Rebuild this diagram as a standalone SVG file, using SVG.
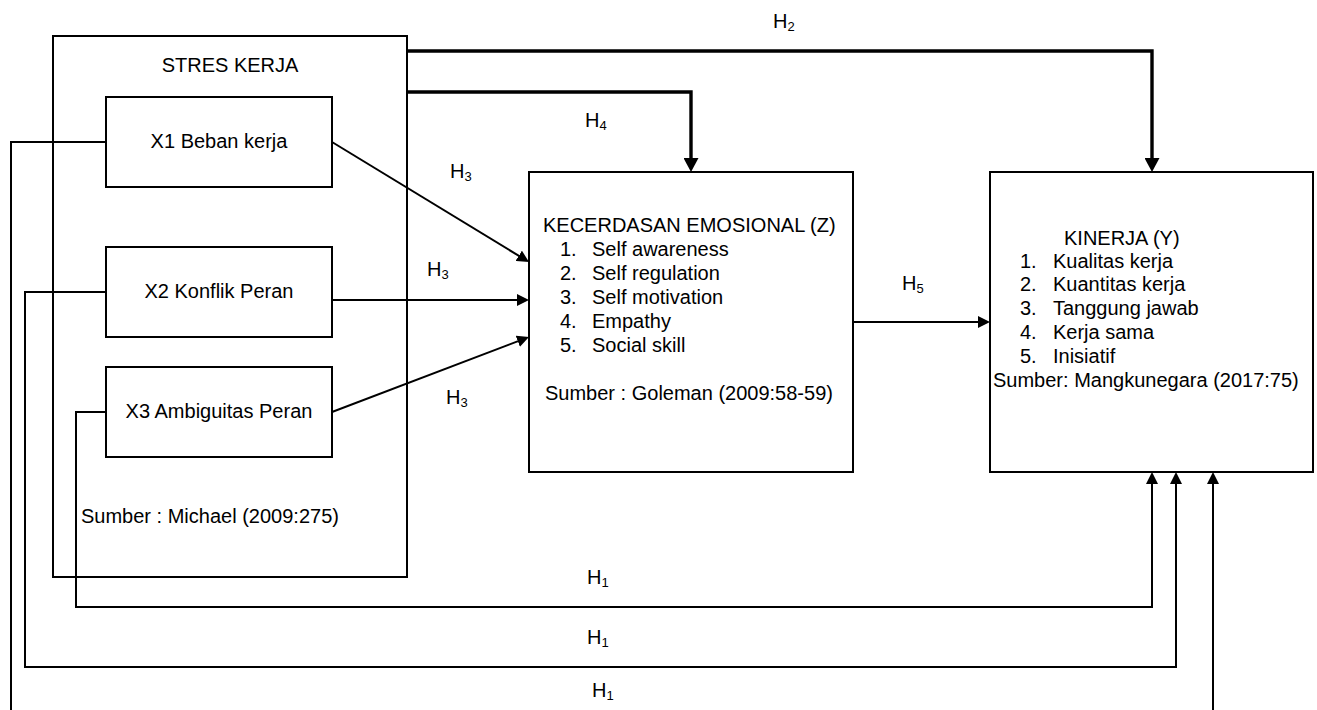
<svg xmlns="http://www.w3.org/2000/svg" width="1317" height="710" viewBox="0 0 1317 710">
<style>
.box{fill:none;stroke:#000;stroke-width:2}
.t{font-family:"Liberation Sans",Arial,sans-serif;font-size:20px;fill:#000}
.c{text-anchor:middle}
.h{font-family:"Liberation Sans",Arial,sans-serif;font-size:20px;fill:#000}
.thin{fill:none;stroke:#000;stroke-width:2}
.thick{fill:none;stroke:#000;stroke-width:3.4}
</style>
<defs>
<marker id="ah" viewBox="0 0 12 12" refX="6" refY="6" markerWidth="12" markerHeight="12" markerUnits="userSpaceOnUse" orient="auto">
<path d="M0,0 L12,6 L0,12 z" fill="#000"/>
</marker>
<marker id="ahb" viewBox="0 0 14 15" refX="6" refY="7.5" markerWidth="14" markerHeight="15" markerUnits="userSpaceOnUse" orient="auto">
<path d="M0,0 L14,7.5 L0,15 z" fill="#000"/>
</marker>
</defs>
<rect width="1317" height="710" fill="#fff"/>

<g id="stres-kerja">
<rect class="box" x="53" y="36" width="354" height="541"/>
<text class="t c" x="230" y="72">STRES KERJA</text>
<text class="t" x="81" y="523">Sumber : Michael (2009:275)</text>
</g>
<g id="x1">
<rect class="box" x="106" y="97" width="226" height="90"/>
<text class="t c" x="219" y="148">X1 Beban kerja</text>
</g>
<g id="x2">
<rect class="box" x="106" y="247" width="226" height="90"/>
<text class="t c" x="219" y="298">X2 Konflik Peran</text>
</g>
<g id="x3">
<rect class="box" x="106" y="367" width="226" height="90"/>
<text class="t c" x="219" y="418">X3 Ambiguitas Peran</text>
</g>
<g id="kecerdasan">
<rect class="box" x="529" y="172" width="324" height="300"/>
<text class="t" x="543" y="232">KECERDASAN EMOSIONAL (Z)</text>
<text class="t" x="560" y="256">1.</text><text class="t" x="592" y="256">Self awareness</text>
<text class="t" x="560" y="280">2.</text><text class="t" x="592" y="280">Self regulation</text>
<text class="t" x="560" y="304">3.</text><text class="t" x="592" y="304">Self motivation</text>
<text class="t" x="560" y="328">4.</text><text class="t" x="592" y="328">Empathy</text>
<text class="t" x="560" y="352">5.</text><text class="t" x="592" y="352">Social skill</text>
<text class="t" x="545" y="400">Sumber : Goleman (2009:58-59)</text>
</g>
<g id="kinerja">
<rect class="box" x="990" y="172" width="323" height="300"/>
<text class="t" x="1064" y="245">KINERJA (Y)</text>
<text class="t" x="1020" y="268">1.</text><text class="t" x="1053" y="268">Kualitas kerja</text>
<text class="t" x="1020" y="291">2.</text><text class="t" x="1053" y="291">Kuantitas kerja</text>
<text class="t" x="1020" y="315">3.</text><text class="t" x="1053" y="315">Tanggung jawab</text>
<text class="t" x="1020" y="339">4.</text><text class="t" x="1053" y="339">Kerja sama</text>
<text class="t" x="1020" y="363">5.</text><text class="t" x="1053" y="363">Inisiatif</text>
<text class="t" x="993" y="387">Sumber: Mangkunegara (2017:75)</text>
</g>

<g id="connectors">
<path class="thick" d="M407,51 H1152 V164" marker-end="url(#ahb)"/>
<path class="thick" d="M407,92 H691 V164" marker-end="url(#ahb)"/>
<path class="thin" d="M332,142 L523.9,258.9" marker-end="url(#ah)"/>
<path class="thin" d="M332,300 H523" marker-end="url(#ah)"/>
<path class="thin" d="M332,412 L523.4,339.1" marker-end="url(#ah)"/>
<path class="thin" d="M853,322 H984" marker-end="url(#ah)"/>
<path class="thin" d="M106,412 H76 V607 H1152 V478" marker-end="url(#ah)"/>
<path class="thin" d="M106,292 H25 V667 H1176 V478" marker-end="url(#ah)"/>
<path class="thin" d="M106,142 H11 V725 H1213 V478" marker-end="url(#ah)"/>
</g>

<g id="labels">
<text class="h" x="773" y="28">H<tspan font-size="13" dy="3">2</tspan></text>
<text class="h" x="585" y="127">H<tspan font-size="13" dy="3">4</tspan></text>
<text class="h" x="450" y="178">H<tspan font-size="13" dy="3">3</tspan></text>
<text class="h" x="427" y="276">H<tspan font-size="13" dy="3">3</tspan></text>
<text class="h" x="446" y="404">H<tspan font-size="13" dy="3">3</tspan></text>
<text class="h" x="902" y="290">H<tspan font-size="13" dy="3">5</tspan></text>
<text class="h" x="587" y="584">H<tspan font-size="13" dy="3">1</tspan></text>
<text class="h" x="587" y="644">H<tspan font-size="13" dy="3">1</tspan></text>
<text class="h" x="592" y="697">H<tspan font-size="13" dy="3">1</tspan></text>
</g>
</svg>
